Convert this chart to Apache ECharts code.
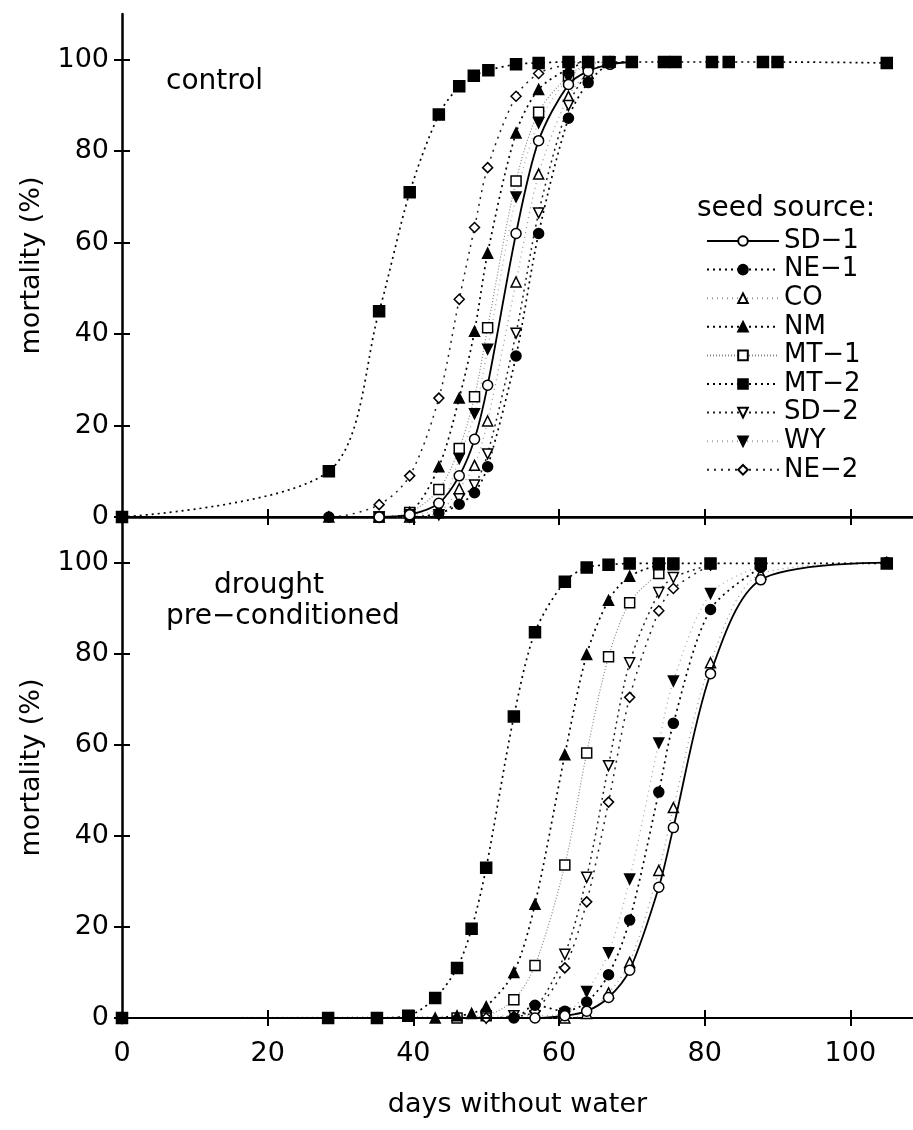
<!DOCTYPE html>
<html>
<head>
<meta charset="utf-8">
<script src="https://cdn.jsdelivr.net/npm/echarts@6/dist/echarts.min.js"></script>
<style>
html,body{margin:0;padding:0;background:#fff;}
#chart{width:913px;height:1130px;}
</style>
</head>
<body>
<div id="chart"></div>
<script>
// ---- data ----
const seriesNames = ['SD−1','NE−1','CO','NM','MT−1','MT−2','SD−2','WY','NE−2'];
const yTicks = [0, 20, 40, 60, 80, 100];
const xTicks = [0, 20, 40, 60, 80, 100];

// control panel: [days without water, mortality %]
const cSD1 = [[0,0],[35.3,0],[39.5,0.5],[43.5,3],[46.3,9],[48.4,17],[50.2,28.8],[54.1,62],[57.2,82.3],[61.3,94.6],[64,97.5],[67,99],[70,99.5]];
const cNE1 = [[0,0],[28.4,0],[35.3,0],[39.5,0],[43.5,0.8],[46.3,2.8],[48.4,5.3],[50.2,11],[54.1,35.2],[57.2,62],[61.3,87.2],[64,95],[67,99],[70,99.5]];
const cCO  = [[0,0],[39.5,0],[43.5,1],[46.3,6.2],[48.4,11.3],[50.2,21],[54.1,51.4],[57.2,75],[61.3,92],[64,97],[67,99.5]];
const cNM  = [[0,0],[28.4,0],[35.3,0],[39.5,1],[43.5,11],[46.3,26],[48.4,40.6],[50.2,57.7],[54.1,84],[57.2,93.5],[61.3,98],[64,99.5]];
const cMT1 = [[0,0],[35.3,0],[39.5,1],[43.5,6],[46.3,15],[48.4,26.3],[50.2,41.4],[54.1,73.5],[57.2,88.5],[61.3,96.5],[64,99],[67,99.5]];
const cMT2 = [[0,0],[28.4,10],[35.3,45],[39.5,71],[43.5,88],[46.3,94.2],[48.3,96.5],[50.3,97.7],[54.1,99],[57.2,99.3],[61.3,99.5],[64,99.5],[66.8,99.5],[70,99.5],[74.4,99.5],[76,99.5],[81,99.5],[83.3,99.5],[88,99.5],[90,99.5],[105,99.3]];
const cSD2 = [[0,0],[39.5,0],[43.5,0.5],[46.3,4],[48.4,7],[50.2,13.8],[54.1,40.2],[57.2,66.5],[61.3,90],[64,97],[67,99.5]];
const cWY  = [[0,0],[35.3,0],[39.5,0.5],[43.5,2],[46.3,12.8],[48.4,22.6],[50.2,36.7],[54.1,70],[57.2,86.2],[61.3,96],[64,99]];
const cNE2 = [[0,0],[28.4,0],[35.3,2.7],[39.5,9],[43.5,26],[46.3,47.6],[48.4,63.3],[50.2,76.4],[54.1,92],[57.2,97],[61.3,99],[64,99.5]];

// drought pre-conditioned panel
const dSD1 = [[0,0],[56.7,0],[60.8,0.5],[63.8,1.5],[66.8,4.5],[69.7,10.5],[73.7,28.7],[75.7,41.8],[80.8,75.6],[87.7,96.2],[105,100]];
const dNE1 = [[0,0],[53.8,0],[56.7,2.8],[60.8,1.5],[63.8,3.5],[66.8,9.5],[69.7,21.5],[73.7,49.6],[75.7,64.7],[80.8,89.7],[87.7,98.9]];
const dCO  = [[0,0],[60.8,0],[63.8,1],[66.8,5.5],[69.7,12.2],[73.7,32.4],[75.7,46.2],[80.8,78],[87.7,97.5],[105,100]];
const dNM  = [[0,0],[43,0],[46,0.5],[48,1],[50,2.5],[53.8,10],[56.7,25],[60.8,57.8],[63.8,79.8],[66.8,91.7],[69.7,97],[73.7,99.5]];
const dMT1 = [[0,0],[46,0],[50,0.5],[53.8,4],[56.7,11.5],[60.8,33.6],[63.8,58.2],[66.8,79.3],[69.7,91.2],[73.7,97.6],[75.7,99.5]];
const dMT2 = [[0,0],[28.3,0],[35,0],[39.3,0.5],[43,4.4],[46,11],[48,19.6],[50,33],[53.8,66.2],[56.7,84.7],[60.8,95.8],[63.8,98.9],[66.8,99.5],[69.7,99.8],[73.7,99.8],[75.7,99.8],[80.8,99.8],[87.7,99.8],[105,99.8]];
const dSD2 = [[0,0],[50,0],[53.8,0.5],[56.7,2],[60.8,14],[63.8,30.9],[66.8,55.4],[69.7,78],[73.7,93.4],[75.7,96.7],[80.8,99.5]];
const dWY  = [[0,0],[56.7,0.5],[60.8,1],[63.8,5.8],[66.8,14.3],[69.7,30.5],[73.7,60.4],[75.7,74],[80.8,93.2],[87.7,99.3]];
const dNE2 = [[0,0],[50,0],[53.8,0.3],[56.7,1.5],[60.8,11],[63.8,25.5],[66.8,47.4],[69.7,70.4],[73.7,89.4],[75.7,94.3],[80.8,99.5]];

const controlData = [cSD1, cNE1, cCO, cNM, cMT1, cMT2, cSD2, cWY, cNE2];
const droughtData = [dSD1, dNE1, dCO, dNM, dMT1, dMT2, dSD2, dWY, dNE2];

// ---- styles ----
const DOWN = 'path://M0,0 L10,0 L5,9 Z';
const styles = [
  {symbol:'circle',   fill:'#fff', size:10, line:{type:'solid', width:1.8, color:'#000'}, z:4},
  {symbol:'circle',   fill:'#000', size:10, line:{type:[2,4], width:1.7, color:'#000'}, z:3},
  {symbol:'triangle', fill:'#fff', size:10, line:{type:[1,4], width:1.3, color:'#999'}, z:2},
  {symbol:'triangle', fill:'#000', size:10, line:{type:[2,4], width:1.7, color:'#000'}, z:3},
  {symbol:'rect',     fill:'#fff', size:10, line:{type:[1,2], width:1.2, color:'#888'}, z:2},
  {symbol:'rect',     fill:'#000', size:11, line:{type:[2,4], width:1.7, color:'#000'}, z:5},
  {symbol:DOWN,       fill:'#fff', size:10, line:{type:[2,4], width:1.5, color:'#222'}, z:2},
  {symbol:DOWN,       fill:'#000', size:10, line:{type:[1,4], width:1.3, color:'#aaa'}, z:2},
  {symbol:'diamond',  fill:'#fff', size:10, line:{type:[2,5], width:1.5, color:'#222'}, z:2}
];

const FONT = 'DejaVu Sans';
const series = [];
[controlData, droughtData].forEach((panel, p) => {
  panel.forEach((d, i) => {
    const s = styles[i];
    series.push({
      type:'line', name:seriesNames[i], xAxisIndex:p*2, yAxisIndex:p*2,
      data:d, smooth:0.3,
      symbol:s.symbol, symbolSize:s.size, showAllSymbol:true,
      itemStyle:{color:s.fill, borderColor:'#000', borderWidth:1.5},
      lineStyle:s.line, z:s.z
    });
  });
});

function yAx(grid, main){
  return {
    type:'value', gridIndex:grid, min:0, max:110, position:'left',
    name: main ? 'mortality (%)' : '', nameLocation:'middle', nameGap:77,
    nameTextStyle:{fontFamily:FONT, fontSize:27, color:'#000'},
    axisLine:{show:main, lineStyle:{color:'#000', width:2.5}},
    axisTick:{show:true, inside:!main, length:8, lineStyle:{color:'#000', width:2}, customValues:yTicks},
    axisLabel:{show:main, fontFamily:FONT, fontSize:27, color:'#000', margin:13, customValues:yTicks},
    splitLine:{show:false}
  };
}
function xAx(grid, main, labels){
  return {
    type:'value', gridIndex:grid, min:0, max:108.6, position:'bottom',
    axisLine:{show:main, onZero:false, lineStyle:{color:'#000', width:2}},
    axisTick:{show:true, inside:!main, length:8, lineStyle:{color:'#000', width:2}, customValues:xTicks.slice(1)},
    axisLabel:{show:labels && main, fontFamily:FONT, fontSize:27, color:'#000', margin:22, customValues:xTicks},
    splitLine:{show:false}
  };
}

const xAxes = [xAx(0,true,false), xAx(0,false,false), xAx(1,true,true), xAx(1,false,false)];
xAxes[2].name = 'days without water';
xAxes[2].nameLocation = 'middle';
xAxes[2].nameGap = 73;
xAxes[2].nameTextStyle = {fontFamily:FONT, fontSize:27, color:'#000'};
// top border of upper panel
xAxes.push({type:'value', gridIndex:0, min:0, max:108.6, position:'top',
  axisLine:{show:true, lineStyle:{color:'#000', width:2.5}}, axisTick:{show:false}, axisLabel:{show:false}, splitLine:{show:false}});

const yAxes = [yAx(0,true), yAx(0,false), yAx(1,true), yAx(1,false)];

const chart = echarts.init(document.getElementById('chart'), null, {renderer:'canvas'});
chart.setOption({
  animation:false,
  backgroundColor:'#fff',
  grid:[
    {left:122, top:14, right:0, height:503},
    {left:122, top:517, right:0, height:501}
  ],
  xAxis:xAxes,
  yAxis:yAxes,
  legend:{
    data:seriesNames, orient:'vertical', left:701, top:223,
    itemWidth:72, itemHeight:12, itemGap:2.6,
    textStyle:{fontFamily:FONT, fontSize:26, lineHeight:26, color:'#000'},
    selectedMode:false
  },
  graphic:[
    {type:'text', left:166, top:68, style:{text:'control', font:'28px "DejaVu Sans"', fill:'#000'}},
    {type:'text', left:214, top:572, style:{text:'drought', font:'28px "DejaVu Sans"', fill:'#000'}},
    {type:'text', left:166, top:603, style:{text:'pre−conditioned', font:'28px "DejaVu Sans"', fill:'#000'}},
    {type:'text', left:697, top:195, style:{text:'seed source:', font:'28px "DejaVu Sans"', fill:'#000'}}
  ],
  series:series
});
</script>
</body>
</html>
